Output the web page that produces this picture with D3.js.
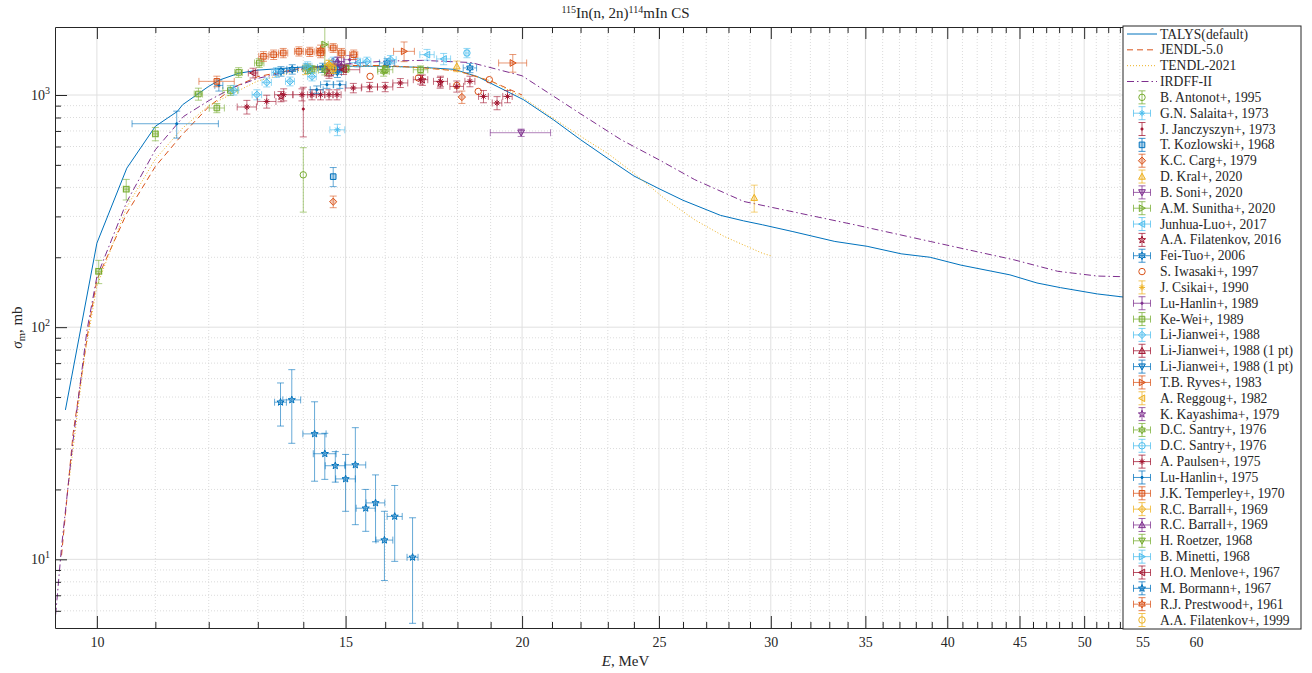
<!DOCTYPE html>
<html><head><meta charset="utf-8">
<script src="https://cdn.jsdelivr.net/npm/d3@7"></script>
<style>
body{margin:0;background:#fff}
svg{display:block}
text{font-family:"Liberation Serif","DejaVu Serif",serif;fill:#262626}
</style>
</head><body>
<svg id="c" width="1312" height="673"></svg>
<script>
// ---------- evaluated curves (E in MeV, sigma in mb) ----------
const talysE   = [9.5,10,10.5,11,11.4,11.5,12.0,12.23,12.6,13,14,15,16,17,17.9,18.6,19.2,20.05,21.05,22,23,24,25,26,27.64,28.7,29.6,31.1,33.3,35.1,37.1,38.9,40.9,44.3,46.3,48.1,51.1,53.2,56,60];
const talysS   = [44,230,484,733,849,908,1090,1164,1240,1280,1320,1330,1330,1315,1290,1200,1089,954,782,642,533,448,395,352,303,287,276,258,234,223,207,200,185,168,155,148,139,135,128,120];
const jendlE   = [9.44,9.62,9.86,10.0,10.5,11.0,11.48,12.0,12.5,13,14,15,16,17,18,19,20];
const jendlS   = [10.4,34.9,97,160,310,492,670,890,1080,1200,1310,1340,1340,1310,1270,1150,1000];
const tendlE   = [9.55,9.8,10.0,10.5,11.0,11.5,12,13,14,15,16,17,18,19,20,21,22.2,23,24,25.2,26.5,27.8,29.6,30];
const tendlS   = [21,75,150,330,530,720,900,1150,1290,1330,1330,1310,1270,1150,980,800,641,560,460,360,290,246,208,203];
const irdffE   = [9.33,9.37,9.44,9.62,9.84,10.0,10.22,10.5,11.0,11.52,12.03,12.5,13,14,15,16,17,18.4,20.0,22.0,23.5,25,26.5,28.7,34.4,38.9,44.6,47.9,51.1,53.2,56,60];
const irdffS   = [5,6.7,11.3,32.7,97,165,230,347,581,809,954,1080,1180,1300,1360,1400,1410,1380,1210,830,642,526,432,348,276,234,195,174,166,165,160,155];

// ---------- experimental data: [E, sigma, dSigma, dE] ----------
const antonot1995   = [[14.0,453,140,0]];
const salaita1973   = [[14.8,708,40,0.18]];
const janczyszyn1973= [[14.0,870,210,0]];
const kozlowski1968 = [[14.7,445,42,0]];
const carg1979      = [[14.7,347,20,0],[18.13,980,60,0]];
const kral2020      = [[29.2,361,48,0],[17.98,1330,70,0]];
const soni2020      = [[19.97,688,25,0.98]];
const sunitha2020   = [[14.5,1650,400,0.08]];
const junhuaLuo2017 = [[17.13,1492,80,0.2],[17.6,1430,80,0.2],[15.3,1380,60,0.2]];
const filatenkov2016= [[13.5,985,50,0],[17.0,1160,60,0],[17.5,1130,60,0]];
const feiTuo2006    = [[13.5,1265,60,0.12],[13.75,1290,60,0.12],[14.1,1300,60,0.12],[14.45,1310,60,0.12],[14.8,1290,60,0.12],[16.05,1374,60,0.2],[18.37,1308,60,0.2]];
const iwasaki1997   = [[15.61,1203,0,0],[16.89,1184,0,0],[17.98,1100,0,0],[18.62,1036,0,0],[18.96,1164,0,0]];
const csikai1990    = [[14.05,1285,60,0],[14.6,1351,60,0]];
const luHanlin1989  = [[14.82,1395,60,0.15],[15.1,1420,60,0.15]];
const keWei1989     = [[10.03,174,20,0.05],[10.49,393,40,0.05],[11.0,680,45,0.05],[11.8,1010,60,0.08],[12.16,879,40,0.15],[12.43,1046,50,0.15],[12.6,1251,60,0.08],[13.03,1374,60,0.1],[16.0,1285,50,0.2],[16.95,1285,50,0.2],[14.2,1290,50,0.1],[15.0,1300,50,0.1]];
const liJianwei1988 = [[12.5,1050,50,0.1],[12.98,1003,50,0.1],[13.19,1133,50,0.1],[13.7,1145,50,0.1],[14.2,1200,50,0.1],[14.7,1395,60,0.1],[15.53,1395,60,0.1],[16.14,1420,60,0.15]];
const liJianweiA    = [[14.6,1240,60,0.1]];
const liJianweiB    = [[14.8,1250,60,0.1]];
const ryves1983     = [[16.5,1542,150,0.28],[19.7,1374,120,0.45]];
const reggoug1982   = [[14.7,1300,60,0]];
const kayashima1979 = [[14.9,1330,60,0]];
const santryA1976   = [[14.5,1280,60,0.15],[15.96,1265,60,0.15]];
const santryB1976   = [[18.28,1517,70,0.05],[13.4,1250,60,0.1]];
const paulsen1975   = [[12.77,888,60,0.2],[13.19,938,60,0.2],[13.56,1003,60,0.2],[13.97,1003,60,0.2],[14.2,1003,50,0.1],[14.4,1003,50,0.1],[14.6,1003,50,0.1],[14.79,1003,50,0.1],[15.19,1072,50,0.2],[15.6,1083,50,0.2],[16.0,1083,50,0.2],[16.4,1127,50,0.2],[16.95,1164,50,0.2],[17.51,1145,60,0.2],[17.98,1089,60,0.2],[18.37,1145,60,0.15],[18.78,986,60,0.15],[19.2,924,60,0.15],[19.53,986,60,0.15]];
const luHanlin1975  = [[11.39,752,100,0.8],[12.2,1100,60,0.08],[14.31,1054,40,0.15],[14.55,1108,40,0.15],[14.86,1108,40,0.15]];
const temperley1970 = [[12.16,1145,60,0.35],[13.12,1467,70,0.1],[13.34,1492,70,0.1],[13.55,1517,70,0.1],[13.9,1542,70,0.1],[14.15,1535,70,0.1],[14.4,1517,70,0.1],[14.7,1595,70,0.1],[14.9,1517,70,0.1],[15.2,1492,70,0.1]];
const barrallA1969  = [[14.6,1351,60,0.1]];
const barrallB1969  = [[14.8,1395,60,0.1]];
const roetzer1968   = [[14.1,1300,60,0.1]];
const minetti1968   = [[14.1,1330,60,0.1]];
const menlove1967   = [[12.9,1244,60,0.1],[14.95,1285,60,0.4]];
const bormann1967   = [[13.49,47.5,10,0.13],[13.74,48.6,17,0.2],[14.26,34.7,13,0.27],[14.5,28.5,6.4,0.27],[14.75,25.3,3.8,0.24],[15.24,25.5,11.4,0.26],[15.0,22.2,6.1,0.24],[15.5,16.6,3.4,0.24],[15.75,17.5,5.6,0.24],[15.98,12.1,4.0,0.22],[16.25,15.3,5.5,0.2],[16.73,10.2,4.9,0.15]];
const prestwood1961 = [[14.4,1560,80,0.1]];
const filatenkov1999= [[14.7,1300,60,0]];

const curveNames = ["TALYS(default)","JENDL-5.0","TENDL-2021","IRDFF-II"];
const seriesNames = ["B. Antonot+, 1995","G.N. Salaita+, 1973","J. Janczyszyn+, 1973","T. Kozlowski+, 1968","K.C. Carg+, 1979","D. Kral+, 2020","B. Soni+, 2020","A.M. Sunitha+, 2020","Junhua-Luo+, 2017","A.A. Filatenkov, 2016","Fei-Tuo+, 2006","S. Iwasaki+, 1997","J. Csikai+, 1990","Lu-Hanlin+, 1989","Ke-Wei+, 1989","Li-Jianwei+, 1988","Li-Jianwei+, 1988 (1 pt)","Li-Jianwei+, 1988 (1 pt)","T.B. Ryves+, 1983","A. Reggoug+, 1982","K. Kayashima+, 1979","D.C. Santry+, 1976","D.C. Santry+, 1976","A. Paulsen+, 1975","Lu-Hanlin+, 1975","J.K. Temperley+, 1970","R.C. Barrall+, 1969","R.C. Barrall+, 1969","H. Roetzer, 1968","B. Minetti, 1968","H.O. Menlove+, 1967","M. Bormann+, 1967","R.J. Prestwood+, 1961","A.A. Filatenkov+, 1999"];
const seriesData = [antonot1995,salaita1973,janczyszyn1973,kozlowski1968,carg1979,kral2020,soni2020,sunitha2020,junhuaLuo2017,filatenkov2016,feiTuo2006,iwasaki1997,csikai1990,luHanlin1989,keWei1989,liJianwei1988,liJianweiA,liJianweiB,ryves1983,reggoug1982,kayashima1979,santryA1976,santryB1976,paulsen1975,luHanlin1975,temperley1970,barrallA1969,barrallB1969,roetzer1968,minetti1968,menlove1967,bormann1967,prestwood1961,filatenkov1999];

const xMajor = [10,15,20,25,30,35,40,45,50,55,60];
const yMajor = [10,100,1000];
const yMajorExp = ["1","2","3"];

// ---------- layout ----------
const L=55,R=1196,T=27,B=628;
const palette = ["#0072BD","#D95319","#EDB120","#7E2F8E","#77AC30","#4DBEEE","#A2142F"];
const markerCycle = ['o','*','.','s','d','^','v','>','<','p','h'];
const svg = d3.select('#c');
const x = d3.scaleLog().domain([9.34,60]).range([L,R]);
const y = d3.scaleLog().domain([5.06,1963]).range([B,T]);

const xMinor = d3.range(10,61).filter(v=>v%5!==0);
const yMinorU = [];
[1,10,100,1000].forEach(d=>{for(let k=2;k<=9;k++){const v=k*d; if(v>5.06&&v<1963&&!yMajor.includes(v)) yMinorU.push(v);} });

// grid
const grid = svg.append('g');
xMinor.forEach(v=>grid.append('line').attr('x1',x(v)).attr('x2',x(v)).attr('y1',T).attr('y2',B).attr('stroke','#d2d2d2').attr('stroke-width',0.8).attr('stroke-dasharray','1,2'));
yMinorU.forEach(v=>grid.append('line').attr('x1',L).attr('x2',R).attr('y1',y(v)).attr('y2',y(v)).attr('stroke','#d2d2d2').attr('stroke-width',0.8).attr('stroke-dasharray','1,2'));
xMajor.forEach(v=>grid.append('line').attr('x1',x(v)).attr('x2',x(v)).attr('y1',T).attr('y2',B).attr('stroke','#e0e0e0').attr('stroke-width',1));
yMajor.forEach(v=>grid.append('line').attr('x1',L).attr('x2',R).attr('y1',y(v)).attr('y2',y(v)).attr('stroke','#e0e0e0').attr('stroke-width',1));

// clip
svg.append('defs').append('clipPath').attr('id','clip').append('rect').attr('x',L).attr('y',T).attr('width',R-L).attr('height',B-T);
const plot = svg.append('g').attr('clip-path','url(#clip)');

// curves
const line = d3.line().x(d=>x(d[0])).y(d=>y(d[1]));
const curves = [
  {E:talysE,S:talysS,c:palette[0],dash:null},
  {E:jendlE,S:jendlS,c:palette[1],dash:'6,4'},
  {E:tendlE,S:tendlS,c:palette[2],dash:'1,2'},
  {E:irdffE,S:irdffS,c:palette[3],dash:'7,3,1.5,3'}
];
curves.forEach(cv=>{
  plot.append('path').datum(cv.E.map((e,i)=>[e,cv.S[i]])).attr('d',line)
    .attr('fill','none').attr('stroke',cv.c).attr('stroke-width',1)
    .attr('stroke-dasharray',cv.dash);
});

// marker path generator (centered at 0,0)
function markerPath(m, r){
  const p = d3.path();
  if(m==='o'){ p.arc(0,0,r*1.15,0,2*Math.PI); }
  else if(m==='s'){ p.rect(-r,-r,2*r,2*r); }
  else if(m==='d'){ const q=r*1.3; p.moveTo(0,-q);p.lineTo(q,0);p.lineTo(0,q);p.lineTo(-q,0);p.closePath(); }
  else if(m==='^'||m==='v'||m==='>'||m==='<'){
    const q=r*1.2; let pts=[[0,-q],[q,q*0.8],[-q,q*0.8]];
    const rot={'^':0,'>':90,'v':180,'<':270}[m]*Math.PI/180;
    pts=pts.map(([a,b])=>[a*Math.cos(rot)-b*Math.sin(rot),a*Math.sin(rot)+b*Math.cos(rot)]);
    p.moveTo(...pts[0]);p.lineTo(...pts[1]);p.lineTo(...pts[2]);p.closePath();
  }
  else if(m==='p'||m==='h'){
    const n = m==='p'?5:6, ro=r*1.35, ri = m==='p'?ro*0.42:ro*0.55;
    for(let k=0;k<2*n;k++){const a=-Math.PI/2+k*Math.PI/n; const rr=k%2?ri:ro; const px=rr*Math.cos(a),py=rr*Math.sin(a); if(k===0)p.moveTo(px,py); else p.lineTo(px,py);} p.closePath();
  }
  else if(m==='*'){ const q=r*1.1; p.moveTo(-q,0);p.lineTo(q,0);p.moveTo(0,-q);p.lineTo(0,q); const s=q*0.7; p.moveTo(-s,-s);p.lineTo(s,s);p.moveTo(-s,s);p.lineTo(s,-s); }
  else if(m==='.'){ p.arc(0,0,1.1,0,2*Math.PI); }
  return p.toString();
}

function drawPoint(g, cx, cy, m, col){
  g.append('path').attr('transform',`translate(${cx},${cy})`).attr('d',markerPath(m,2.8))
    .attr('fill', m==='o'?'none':col).attr('fill-opacity', m==='.'?1:0.3)
    .attr('stroke',col).attr('stroke-width',1);
}

const cap=3.5;
seriesData.forEach((pts,si)=>{
  const col = palette[(si+4)%7];
  const m = markerCycle[si%11];
  const g = plot.append('g');
  pts.forEach(([E,S,dS,dE])=>{
    const cx=x(E), cy=y(S);
    const eb = g.append('g').attr('stroke',col).attr('stroke-width',1).attr('stroke-opacity',0.6);
    if(dS>0){
      const y1=y(S+dS), y2=y(Math.max(S-dS,1e-3));
      eb.append('line').attr('x1',cx).attr('x2',cx).attr('y1',y1).attr('y2',y2);
      eb.append('line').attr('x1',cx-cap).attr('x2',cx+cap).attr('y1',y1).attr('y2',y1);
      eb.append('line').attr('x1',cx-cap).attr('x2',cx+cap).attr('y1',y2).attr('y2',y2);
    }
    if(dE>0){
      const x1=x(E-dE), x2=x(E+dE);
      eb.append('line').attr('x1',x1).attr('x2',x2).attr('y1',cy).attr('y2',cy);
      eb.append('line').attr('x1',x1).attr('x2',x1).attr('y1',cy-cap).attr('y2',cy+cap);
      eb.append('line').attr('x1',x2).attr('x2',x2).attr('y1',cy-cap).attr('y2',cy+cap);
    }
    drawPoint(g,cx,cy,m,col);
  });
});

// axes
const ax = svg.append('g').attr('class','axes');
function styleAxis(g){ g.selectAll('path.domain').attr('stroke','#262626').attr('stroke-width',1); g.selectAll('.tick line').attr('stroke','#262626').attr('stroke-width',1); g.selectAll('text').attr('fill','#262626').attr('font-family','"Liberation Serif","DejaVu Serif",serif'); }
const xb = ax.append('g').attr('transform',`translate(0,${B})`)
  .call(d3.axisBottom(x).tickValues(xMajor).tickSize(-12).tickSizeOuter(0).tickPadding(9).tickFormat(d3.format('d')));
xb.selectAll('text').attr('font-size',14);
styleAxis(xb);
const xbm = ax.append('g').attr('transform',`translate(0,${B})`)
  .call(d3.axisBottom(x).tickValues(xMinor).tickSize(-6).tickSizeOuter(0).tickFormat(''));
styleAxis(xbm); xbm.select('path.domain').remove();
const xt = ax.append('g').attr('transform',`translate(0,${T})`)
  .call(d3.axisTop(x).tickValues(xMajor).tickSize(-12).tickSizeOuter(0).tickFormat(''));
styleAxis(xt);
const xtm = ax.append('g').attr('transform',`translate(0,${T})`)
  .call(d3.axisTop(x).tickValues(xMinor).tickSize(-6).tickSizeOuter(0).tickFormat(''));
styleAxis(xtm); xtm.select('path.domain').remove();
const yl = ax.append('g').attr('transform',`translate(${L},0)`)
  .call(d3.axisLeft(y).tickValues(yMajor).tickSize(-12).tickSizeOuter(0).tickFormat(''));
styleAxis(yl);
const ylm = ax.append('g').attr('transform',`translate(${L},0)`)
  .call(d3.axisLeft(y).tickValues(yMinorU).tickSize(-6).tickSizeOuter(0).tickFormat(''));
styleAxis(ylm); ylm.select('path.domain').remove();
const yr = ax.append('g').attr('transform',`translate(${R},0)`)
  .call(d3.axisRight(y).tickValues(yMajor).tickSize(-12).tickSizeOuter(0).tickFormat(''));
styleAxis(yr);

// y tick labels with superscripts
yMajor.forEach((v,i)=>{
  const t = svg.append('text').attr('x',50).attr('y',y(v)+5).attr('text-anchor','end').attr('font-size',14);
  t.append('tspan').text('10');
  t.append('tspan').attr('font-size',10).attr('dy',-6).text(yMajorExp[i]);
});

// title
const title = svg.append('text').attr('x',(L+R)/2).attr('y',18).attr('text-anchor','middle').attr('font-size',15);
title.append('tspan').attr('font-size',10).attr('dy',-5).text('115');
title.append('tspan').attr('dy',5).text('In(n, 2n)');
title.append('tspan').attr('font-size',10).attr('dy',-5).text('114');
title.append('tspan').attr('dy',5).text('mIn CS');

// axis labels
const xl = svg.append('text').attr('x',(L+R)/2).attr('y',666).attr('text-anchor','middle').attr('font-size',15);
xl.append('tspan').attr('font-style','italic').text('E');
xl.append('tspan').text(', MeV');
const ylab = svg.append('text').attr('transform',`translate(22,${(T+B)/2}) rotate(-90)`).attr('text-anchor','middle').attr('font-size',15);
ylab.append('tspan').attr('font-style','italic').text('σ');
ylab.append('tspan').attr('font-size',10.5).attr('dy',3).text('m');
ylab.append('tspan').attr('dy',-3).text(', mb');

// legend
const lg = svg.append('g');
const LX0=1123, LX1=1301, LY0=26, LY1=629;
lg.append('rect').attr('x',LX0).attr('y',LY0).attr('width',LX1-LX0).attr('height',LY1-LY0).attr('fill','#fff').attr('stroke','#262626').attr('stroke-width',1);
const rowH = (620-34)/37;
const lfs = 13.6;
curveNames.forEach((nm,i)=>{
  const yy = 34+i*rowH;
  lg.append('line').attr('x1',1127).attr('x2',1157).attr('y1',yy).attr('y2',yy).attr('stroke',curves[i].c).attr('stroke-width',1).attr('stroke-dasharray',curves[i].dash);
  lg.append('text').attr('x',1160).attr('y',yy+4.5).attr('font-size',lfs).text(nm);
});
seriesNames.forEach((nm,si)=>{
  const yy = 34+(si+4)*rowH, cx=1142;
  const col = palette[(si+4)%7];
  const m = markerCycle[si%11];
  const pts = seriesData[si];
  const hasY = pts.some(p=>p[2]>0), hasX = pts.some(p=>p[3]>0);
  const eb = lg.append('g').attr('stroke',col).attr('stroke-width',1).attr('stroke-opacity',0.75);
  if(hasY){
    eb.append('line').attr('x1',cx).attr('x2',cx).attr('y1',yy-6.5).attr('y2',yy+6.5);
    eb.append('line').attr('x1',cx-cap).attr('x2',cx+cap).attr('y1',yy-6.5).attr('y2',yy-6.5);
    eb.append('line').attr('x1',cx-cap).attr('x2',cx+cap).attr('y1',yy+6.5).attr('y2',yy+6.5);
  }
  if(hasX){
    eb.append('line').attr('x1',cx-8.5).attr('x2',cx+8.5).attr('y1',yy).attr('y2',yy);
    eb.append('line').attr('x1',cx-8.5).attr('x2',cx-8.5).attr('y1',yy-cap).attr('y2',yy+cap);
    eb.append('line').attr('x1',cx+8.5).attr('x2',cx+8.5).attr('y1',yy-cap).attr('y2',yy+cap);
  }
  drawPoint(lg,cx,yy,m,col);
  lg.append('text').attr('x',1160).attr('y',yy+4.5).attr('font-size',lfs).text(nm);
});
</script>
</body></html>
